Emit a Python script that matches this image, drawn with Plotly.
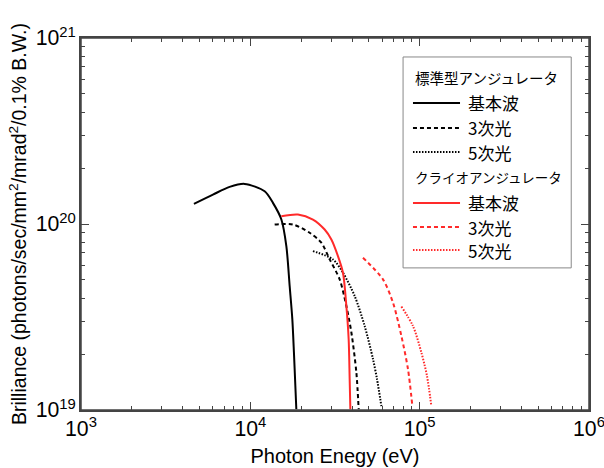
import plotly.graph_objects as go

# Standard undulator (標準型アンジュレータ)
std_fund_x = [4645, 6014, 7545, 9254, 12150, 13600, 15250, 16320, 17070, 17700, 18090, 18440, 18690]
std_fund_y = [1.283e20, 1.439e20, 1.583e20, 1.643e20, 1.499e20, 1.299e20, 1.057e20, 7.60e19, 4.64e19, 3.08e19, 2.04e19, 1.35e19, 1.01e19]
std_h3_x = [13920, 17850, 22400, 26270, 29410, 33690, 36910, 39510, 42280, 43630]
std_h3_y = [9.94e19, 9.94e19, 8.97e19, 7.93e19, 6.45e19, 5.04e19, 3.62e19, 2.61e19, 1.59e19, 1.01e19]
std_h5_x = [23430, 30760, 35240, 41320, 47330, 53000, 55960, 59390]
std_h5_y = [7.15e19, 6.45e19, 5.47e19, 4.10e19, 2.83e19, 1.88e19, 1.47e19, 1.05e19]

# Cryogenic undulator (クライオアンジュレータ)
cry_fund_x = [15250, 19100, 23430, 27470, 30100, 32920, 35240, 36910, 38080, 38600, 38970]
cry_fund_y = [1.101e20, 1.125e20, 1.057e20, 9.34e19, 8.26e19, 6.72e19, 5.47e19, 3.62e19, 2.40e19, 1.47e19, 1.01e19]
cry_h3_x = [46260, 60700, 69560, 77980, 85290, 90560]
cry_h3_y = [6.59e19, 5.04e19, 3.78e19, 2.50e19, 1.66e19, 1.05e19]
cry_h5_x = [77980, 91300, 102300, 110400, 117200]
cry_h5_y = [3.60e19, 2.83e19, 2.04e19, 1.53e19, 1.05e19]

group_titles = ["標準型アンジュレータ", "クライオアンジュレータ"]
names = ["基本波", "3次光", "5次光"]

X_RANGE = [3, 6]    # log10 of 1e3 .. 1e6 eV
Y_RANGE = [19, 21]  # log10 of 1e19 .. 1e21

RED = "#ff2a2a"
FRAME = "#444"
DASH = "4px,3px"
DOT = "1.5px,1.5px"
dashes = ["solid", DASH, DOT]

series = [
    (std_fund_x, std_fund_y), (std_h3_x, std_h3_y), (std_h5_x, std_h5_y),
    (cry_fund_x, cry_fund_y), (cry_h3_x, cry_h3_y), (cry_h5_x, cry_h5_y),
]

fig = go.Figure()
for i, (xs, ys) in enumerate(series):
    col = "black" if i < 3 else RED
    fig.add_trace(go.Scatter(
        x=xs, y=ys, mode="lines",
        name=f"{group_titles[i // 3]} {names[i % 3]}",
        showlegend=False,
        line=dict(color=col, width=2, dash=dashes[i % 3], shape="spline", smoothing=0.8)))

# ---- frame + legend box drawn in paper coordinates ----
JP = "Noto Sans CJK JP"
shapes = [
    dict(type="rect", xref="paper", yref="paper", x0=0, x1=1, y0=0, y1=1,
         line=dict(color=FRAME, width=1.5), layer="above"),
    dict(type="rect", xref="paper", yref="paper", x0=0.634, x1=0.965, y0=0.382, y1=0.949,
         line=dict(color="#888", width=1), fillcolor="white", layer="above"),
]
annotations = []
row_y = [0.8925, 0.8253, 0.7581, 0.6935, 0.6263, 0.5565, 0.4919, 0.4301]
title_sizes = [14.5, 13.5]
for g in range(2):
    base = g * 4
    annotations.append(dict(xref="paper", yref="paper", x=0.6535, y=row_y[base], text=group_titles[g],
                            showarrow=False, xanchor="left", yanchor="middle",
                            font=dict(size=title_sizes[g], family=JP, color="black")))
    for k in range(3):
        yy = row_y[base + 1 + k]
        shapes.append(dict(type="line", xref="paper", yref="paper", x0=0.6535, x1=0.7461, y0=yy, y1=yy,
                           line=dict(color="black" if g == 0 else RED, width=2, dash=dashes[k]),
                           layer="above"))
        annotations.append(dict(xref="paper", yref="paper", x=0.757, y=yy, text=names[k],
                                showarrow=False, xanchor="left", yanchor="middle",
                                font=dict(size=17, family=JP, color="black")))

axis_common = dict(
    type="log", showgrid=False, zeroline=False, automargin=False,
    showline=True, linecolor=FRAME, linewidth=1.5, mirror="ticks",
    ticks="inside", ticklen=8, tickcolor=FRAME, tickwidth=1.2,
    dtick=1, exponentformat="power", ticklabeloverflow="allow",
    tickfont=dict(size=17, family="Liberation Sans", color="black"),
    minor=dict(ticks="inside", ticklen=4, tickcolor=FRAME, tickwidth=1, showgrid=False),
)
# top / right companion axes (frame with inward ticks, no labels)
twin_common = dict(axis_common, mirror=False, showticklabels=False)

fig.update_layout(
    width=604, height=468,
    margin=dict(l=81, r=15, t=38, b=58, autoexpand=False),
    plot_bgcolor="white", paper_bgcolor="white",
    showlegend=False,
    shapes=shapes, annotations=annotations,
    xaxis=dict(axis_common, range=X_RANGE,
               title=dict(text="Photon Enegy (eV)", standoff=9,
                          font=dict(size=20, family="Liberation Sans", color="black"))),
    yaxis=dict(axis_common, range=Y_RANGE,
               title=dict(text="Brilliance (photons/sec/mm<sup>2</sup>/mrad<sup>2</sup>/0.1% B.W.)", standoff=4,
                          font=dict(size=19.5, family="Liberation Sans", color="black"))),
    xaxis2=dict(twin_common, range=X_RANGE, overlaying="x", side="top", anchor="y"),
    yaxis2=dict(twin_common, range=Y_RANGE, overlaying="y", side="right", anchor="x"),
)

fig.write_html(
    "out.html",
    config={"displayModeBar": False},
    post_script="document.body.style.margin='0';document.documentElement.style.overflow='hidden';",
)
